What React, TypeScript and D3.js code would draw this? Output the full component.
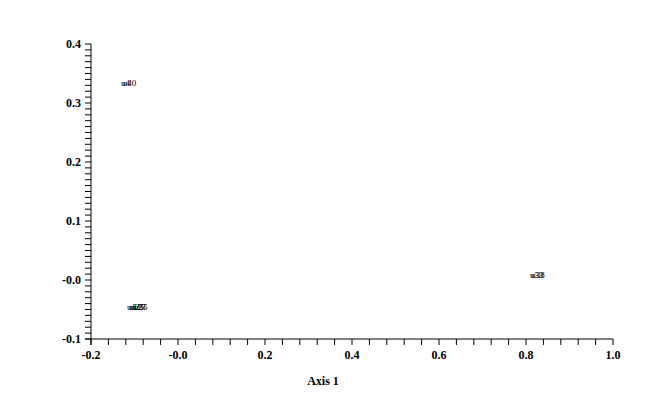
import React from "react";
import * as d3 from "d3";

const W = 664;
const H = 413;

const xMajorTicks = [-0.2, 0.0, 0.2, 0.4, 0.6, 0.8, 1.0];
const xTickLabels = ["-0.2", "-0.0", "0.2", "0.4", "0.6", "0.8", "1.0"];
const yMajorTicks = [-0.1, 0.0, 0.1, 0.2, 0.3, 0.4];
const yTickLabels = ["-0.1", "-0.0", "0.1", "0.2", "0.3", "0.4"];

const pointLabels = ["u4", "u40", "u1", "u12", "u25", "u13", "u35", "u33", "u38"];
const axis1Values = [-0.131, -0.127, -0.117, -0.113, -0.109, -0.105, -0.101, 0.809, 0.812];
const axis2Values = [0.334, 0.334, -0.046, -0.046, -0.046, -0.046, -0.046, 0.008, 0.008];

export default function App() {
  const x = d3.scaleLinear().domain([-0.2, 1.0]).range([91, 613]);
  const y = d3.scaleLinear().domain([-0.1, 0.4]).range([339, 44]);
  const xMinor = d3.range(0, 31).map((i) => -0.2 + i * 0.04);
  const yMinor = d3.range(0, 51).map((i) => -0.1 + i * 0.01);
  const font = "'Liberation Serif', 'Times New Roman', serif";

  return (
    <svg
      width={W}
      height={H}
      style={{ position: "absolute", left: 0, top: 0, background: "#fff" }}
    >
      {/* x axis */}
      <line x1={x(-0.2) - 6} x2={x(1.0)} y1={y(-0.1)} y2={y(-0.1)} stroke="#000" strokeWidth={1} />
      {xMinor.map((v, i) => (
        <line key={"xm" + i} x1={x(v)} x2={x(v)} y1={y(-0.1)} y2={y(-0.1) + 6} stroke="#000" strokeWidth={1} />
      ))}
      {xMajorTicks.map((v, i) => (
        <text
          key={"xl" + i}
          x={x(v)}
          y={y(-0.1) + 20}
          textAnchor="middle"
          fontFamily={font}
          fontWeight="bold"
          fontSize={12}
        >
          {xTickLabels[i]}
        </text>
      ))}
      {/* y axis */}
      <line x1={x(-0.2)} x2={x(-0.2)} y1={y(0.4)} y2={y(-0.1) + 6} stroke="#000" strokeWidth={1} />
      {yMinor.map((v, i) => (
        <line key={"ym" + i} x1={x(-0.2) - 6} x2={x(-0.2)} y1={y(v)} y2={y(v)} stroke="#000" strokeWidth={1} />
      ))}
      {yMajorTicks.map((v, i) => (
        <text
          key={"yl" + i}
          x={x(-0.2) - 10}
          y={y(v)}
          dy="0.35em"
          textAnchor="end"
          fontFamily={font}
          fontWeight="bold"
          fontSize={12}
        >
          {yTickLabels[i]}
        </text>
      ))}
      <text
        x={323}
        y={385}
        textAnchor="middle"
        fontFamily={font}
        fontWeight="bold"
        fontSize={12}
      >
        Axis 1
      </text>
      {/* point labels */}
      {pointLabels.map((lab, i) => (
        <text
          key={"p" + i}
          x={x(axis1Values[i])}
          y={y(axis2Values[i])}
          dy="0.35em"
          fontFamily={font}
          fontSize={9}
          fill="#000"
        >
          {lab}
        </text>
      ))}
    </svg>
  );
}
